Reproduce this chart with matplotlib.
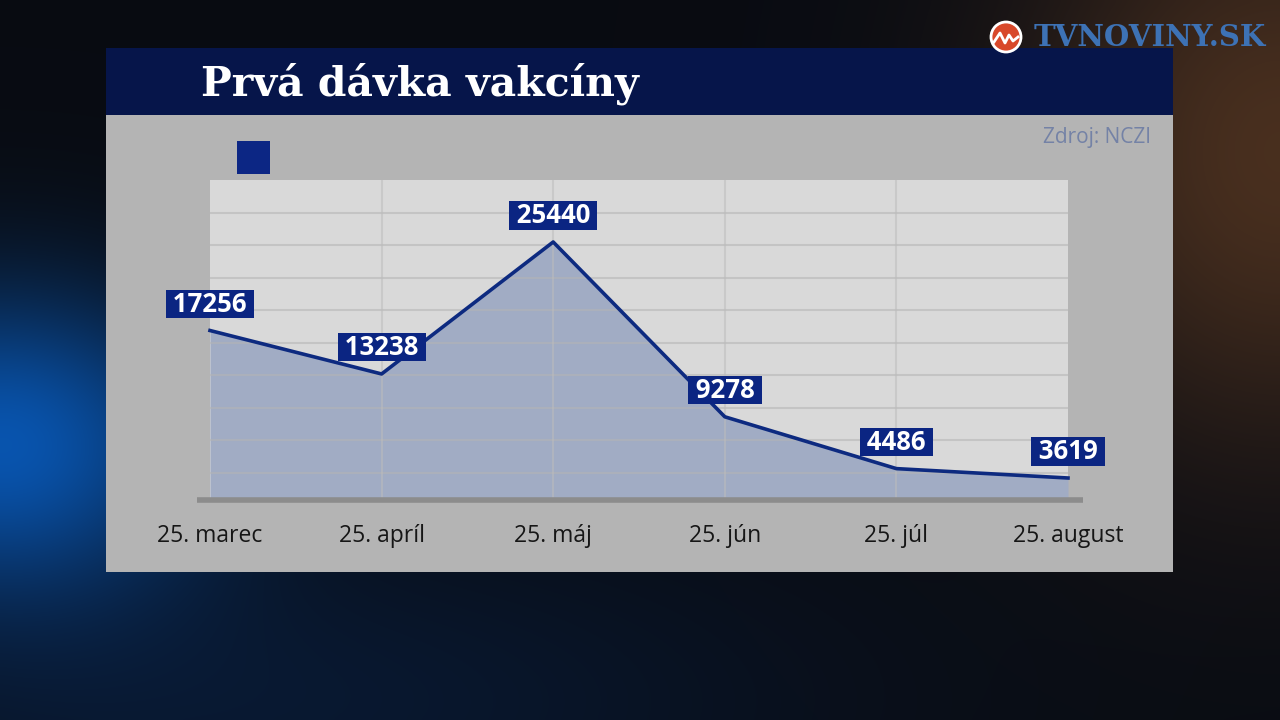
import numpy as np
import matplotlib
matplotlib.use('Agg')
import matplotlib.pyplot as plt
from matplotlib.patches import Rectangle, Circle

# ---- data ----
categories = ['25. marec', '25. apríl', '25. máj', '25. jún', '25. júl', '25. august']
values = [17256, 13238, 25440, 9278, 4486, 3619]
title = 'Prvá dávka vakcíny'
source = 'Zdroj: NCZI'
brand = 'TVNOVINY.SK'

W, H = 1280, 720
fig = plt.figure(figsize=(12.8, 7.2), dpi=100)

# ---- background (decorative) ----
bg = fig.add_axes([0, 0, 1, 1])
bg.set_xlim(0, W)
bg.set_ylim(H, 0)
bg.axis('off')
yy, xx = np.mgrid[0:H:4, 0:W:4]
img = np.ones(xx.shape + (3,)) * np.array([0.035, 0.045, 0.07])
blue = np.exp(-(((xx - 0) / 200.0) ** 2 + ((yy - 440) / 150.0) ** 2))
blue2 = np.exp(-(((xx - 250) / 550.0) ** 2 + ((yy - 700) / 180.0) ** 2))
orange = np.exp(-(((xx - 1280) / 260.0) ** 2 + ((yy - 150) / 300.0) ** 2))
img += blue[..., None] * np.array([0.0, 0.28, 0.60])
img += blue2[..., None] * np.array([0.0, 0.05, 0.12])
img += orange[..., None] * np.array([0.25, 0.14, 0.05])
bg.imshow(np.clip(img, 0, 1), extent=(0, W, H, 0), aspect='auto', zorder=0,
          interpolation='bicubic')

# panels
bg.add_patch(Rectangle((106, 48), 1067, 67, facecolor='#06154a', edgecolor='none', zorder=1))
bg.add_patch(Rectangle((106, 115), 1067, 457, facecolor='#b4b4b4', edgecolor='none', zorder=1))
bg.text(201, 84, title, color='white', fontsize=29.5, fontweight='bold',
        family='DejaVu Serif', ha='left', va='center', zorder=2)
bg.add_patch(Rectangle((237, 141), 33, 33, facecolor='#0c2684', edgecolor='none', zorder=2))
bg.text(1151, 138, source, color='#7482a6', fontsize=15, family='Open Sans',
        ha='right', va='center', zorder=2)

# logo
bg.add_patch(Circle((1006, 37), 15, facecolor='#d8482a', edgecolor='white', lw=2, zorder=3))
bg.plot([994, 1000, 1005, 1009, 1013, 1018], [42, 33, 43, 35, 41, 37], color='white', lw=2, zorder=4)
bg.text(1034, 38, brand, color='#3d72b5', fontsize=21, fontweight='bold',
        family='DejaVu Serif', ha='left', va='center', zorder=3)

# ---- chart ----
left, right, top, bottom = 210, 1068, 180, 500
ax = fig.add_axes([left / W, 1 - bottom / H, (right - left) / W, (bottom - top) / H])
ax.set_facecolor('#d9d9d9')
x = np.arange(len(values))
ylo, yhi = 1585, 31172
ax.set_xlim(0, len(values) - 1)
ax.set_ylim(ylo, yhi)

ax.fill_between(x, values, ylo, color='#a1acc4', zorder=1, lw=0)
for k in range(1, 10):
    ax.axhline(yhi - 3005 * k, color='#b4b4b4', lw=1.5, alpha=0.55, zorder=2)
for xi in x[1:-1]:
    ax.axvline(xi, color='#bcbcbc', lw=1.5, alpha=0.55, zorder=2)
ax.plot(x, values, color='#0d2a80', lw=2.6, zorder=3, clip_on=False)

for xi, v in zip(x, values):
    ax.annotate(f' {v} ', xy=(xi, v), xytext=(0, 13), textcoords='offset pixels',
                ha='center', va='bottom', color='white', fontsize=18.5, fontweight='bold',
                family='Open Sans', zorder=5, annotation_clip=False,
                bbox=dict(boxstyle='square,pad=0.02', fc='#0b2582', ec='none'))

for s in ax.spines.values():
    s.set_visible(False)
ax.plot([-0.015, 1.017], [0, 0], transform=ax.transAxes, color='#8c8c8c', lw=4,
        clip_on=False, zorder=4, solid_capstyle='butt')
ax.set_yticks([])
ax.set_xticks(x, categories)
ax.tick_params(axis='x', length=0, pad=17, labelsize=16.5, labelcolor='#161616')
for lbl in ax.get_xticklabels():
    lbl.set_family('Open Sans')

fig.savefig('out.png', dpi=100)
